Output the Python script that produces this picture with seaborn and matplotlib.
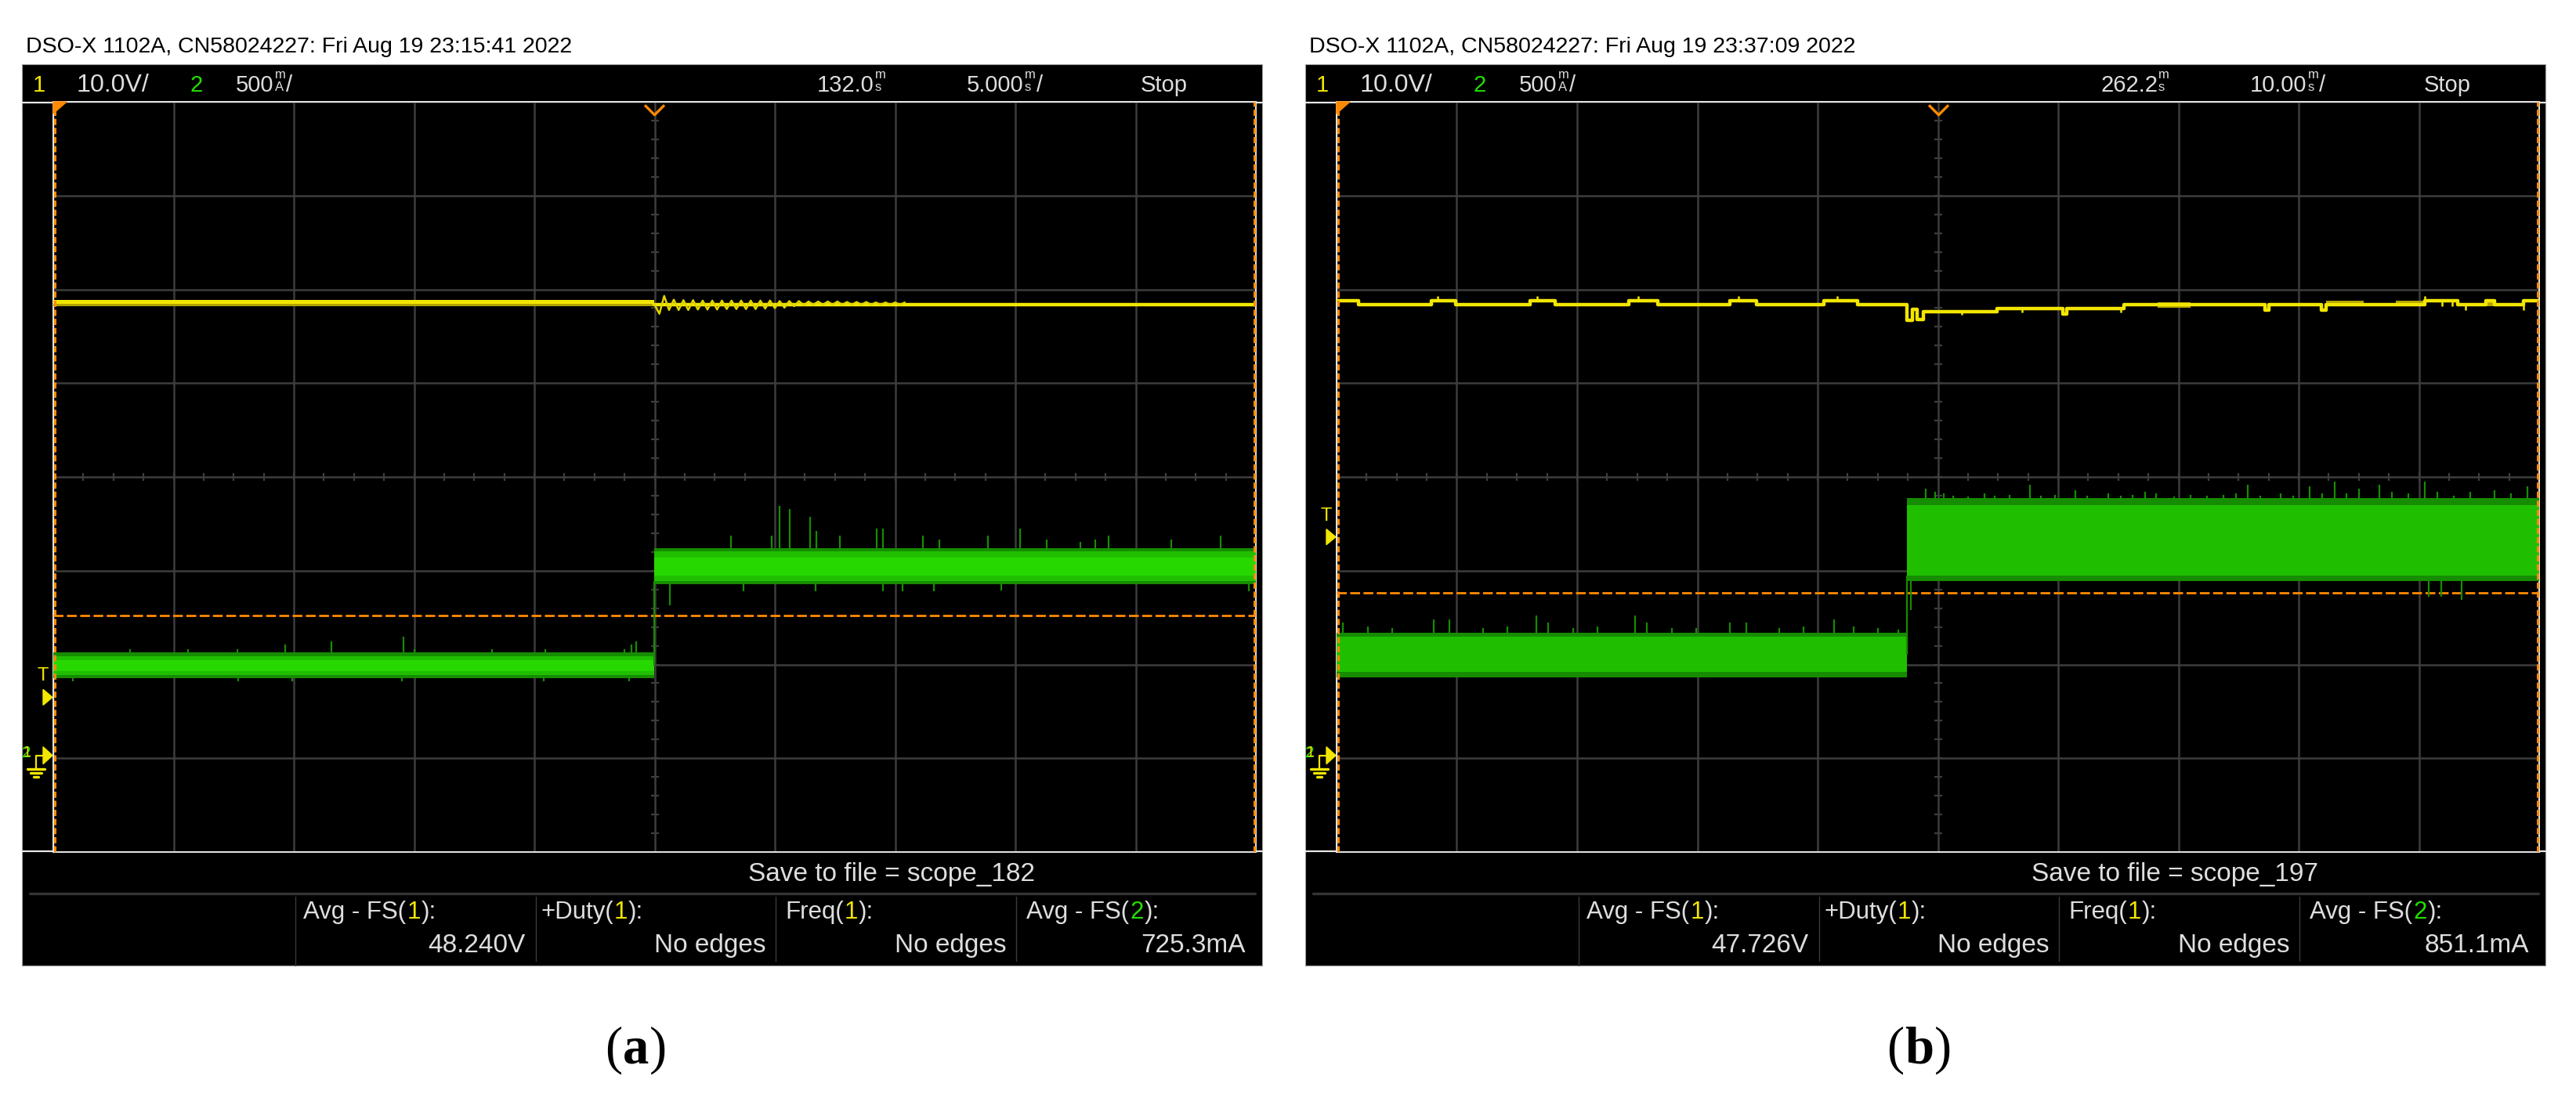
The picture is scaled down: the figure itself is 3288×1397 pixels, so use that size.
import numpy as np
import seaborn as sns
import matplotlib.pyplot as plt
from matplotlib import transforms, font_manager
from matplotlib.patches import Rectangle, Polygon
from matplotlib.path import Path

# ---- data ----
TITLES = ["DSO-X 1102A, CN58024227: Fri Aug 19 23:15:41 2022",
          "DSO-X 1102A, CN58024227: Fri Aug 19 23:37:09 2022"]
CH_SCALES = ["10.0V/", "500"]
DELAYS = ["132.0", "262.2"]
TIMEBASES = ["5.000", "10.00"]
SAVE_NAMES = ["scope_182", "scope_197"]
CAPTIONS = ["a", "b"]
MEAS_LABELS = ["Avg - FS(", "+Duty(", "Freq(", "Avg - FS("]
MEAS_CH = ["1", "1", "1", "2"]
A_MEAS = ["48.240V", "No edges", "No edges", "725.3mA"]
B_MEAS = ["47.726V", "No edges", "No edges", "851.1mA"]

GROUND_DIV = -2.97          # both channel grounds sit here (divisions)
CH1_VDIV = 10.0             # V/div
CH2_MADIV = 500.0           # mA/div

# panel (a): 5 ms/div
A_T = (-25.0, 25.0)
A_STEP_T = 0.0
A_TRIG_MA = 745
A_TMARK_V = 6.2
A_CH1_BEFORE = (47.9, 48.15, 48.56)
A_CH1_AFTER = 48.06
A_RING_T = [0.4, 0.8, 1.2, 1.6, 2.0, 2.4, 2.8, 3.2, 3.6, 4.0, 4.4, 4.8, 5.2,
            5.6, 6.0, 6.4, 6.8, 7.2, 7.6, 8.0, 8.4, 8.8, 9.2, 9.6, 10.0, 10.4]
A_RING_HI = [49.0, 48.6, 48.55, 48.55, 48.5, 48.5, 48.5, 48.5, 48.5, 48.5, 48.5,
             48.5, 48.45, 48.45, 48.45, 48.4, 48.4, 48.4, 48.4, 48.35, 48.35,
             48.35, 48.3, 48.3, 48.3, 48.3]
A_RING_LO = [47.1, 47.5, 47.5, 47.5, 47.55, 47.55, 47.55, 47.6, 47.6, 47.6, 47.6,
             47.65, 47.7, 47.75, 47.9, 48.0, 48.06, 48.06, 48.06, 48.06, 48.06,
             48.06, 48.06, 48.06, 48.06, 48.06]
A_CH2_BEFORE = (410, 430, 450, 510, 530, 550)     # dark/mid/bright band edges, mA
A_CH2_AFTER = (915, 930, 960, 1055, 1090, 1105)
A_SPIKE_T = [-21.8, -19.4, -17.35, -15.35, -13.45, -10.45, -10.0, -6.75, -4.55,
             -1.25, -0.95, -0.75, 3.16, 4.87, 5.21, 5.62, 6.47, 6.73, 7.71, 9.23,
             9.48, 11.16, 11.84, 13.86, 15.19, 16.29, 17.70, 18.32, 18.88, 21.47, 23.55]
A_SPIKE_TOP = [565, 565, 565, 590, 610, 635, 565, 565, 565, 565, 590, 610, 1170,
               1170, 1330, 1315, 1270, 1195, 1170, 1210, 1210, 1170, 1150, 1170,
               1210, 1150, 1140, 1150, 1170, 1150, 1170]
A_DIP_T = [-24.2, -17.3, -15.05, -10.5, -4.6, -1.05, 0.63, 3.7, 6.7, 9.5, 10.3,
           11.6, 14.4, 24.7]
A_DIP_BOT = [395, 395, 395, 395, 395, 395, 800, 875, 875, 875, 875, 875, 880, 875]

# panel (b): 10 ms/div
B_T = (-50.0, 50.0)
B_STEP_T = -2.6
B_TRIG_MA = 865
B_TMARK_V = 23.3
B_CH1_T = [-50, -48.2, -42.1, -40.1, -33.9, -31.8, -25.7, -23.3, -17.3, -15.1,
           -9.5, -6.7, -2.6, -2.1, -1.7, -1.2, 4.9, 10.4, 10.7, 15.5, 27.2, 27.5,
           31.9, 32.3, 40.5, 43.2, 45.6, 46.3, 48.7, 50]
B_CH1_V = [48.5, 48.06, 48.5, 48.06, 48.5, 48.06, 48.5, 48.06, 48.5, 48.06,
           48.5, 48.06, 46.4, 47.6, 46.5, 47.3, 47.67, 47.1, 47.67, 48.07, 47.5,
           48.07, 47.5, 48.07, 48.5, 48.07, 48.5, 48.07, 48.5, 48.5]
B_TICK_T = [-41.6, -33.3, -24.9, -16.6, -8.4, 2.0, 7.0, 15.2, 40.5, 41.9, 42.8, 43.9, 48.7]
B_TICK_V = [49.0, 49.0, 49.0, 49.0, 49.0, 47.0, 47.2, 47.2, 49.0, 47.9, 47.9, 47.5, 47.5]
B_FUZZ_T0 = [18.3, 32.3, 38.1, 45.6]
B_FUZZ_T1 = [21.0, 35.4, 40.5, 46.3]
B_FUZZ_LO = [47.7, 47.9, 47.9, 47.9]
B_FUZZ_HI = [48.3, 48.5, 48.5, 48.5]
B_CH2_BEFORE = (417, 446, 633, 655)
B_CH2_AFTER = (930, 958, 1335, 1372)
B_SPIKE_T = [-49.5, -47.4, -45.4, -41.9, -40.6, -37.8, -35.8, -33.4, -32.4, -30.3,
             -28.3, -25.2, -24.2, -22.1, -20.1, -17.3, -15.9, -13.2, -11.2, -8.6,
             -7.0, -5.0, -3.3,
             -1.03, -0.21, 0.47, 1.29, 2.52, 3.89, 4.71, 5.94, 7.65, 8.54, 9.71,
             11.41, 12.44, 14.15, 15.18, 16.20, 17.23, 18.12, 19.62, 21.00, 22.36,
             23.73, 24.76, 25.78, 26.81, 28.52, 29.54, 30.91, 31.94, 32.97, 33.99,
             35.02, 36.73, 37.76, 39.12, 40.49, 41.52, 42.88, 44.25, 46.31, 47.67, 49.04]
B_SPIKE_TOP = [707, 688, 679, 725, 725, 679, 688, 747, 707, 679,
               688, 747, 707, 679, 679, 707, 707, 679, 688, 725,
               688, 679, 669,
               1424, 1405, 1396, 1386, 1380, 1396, 1384, 1387, 1442, 1386, 1387,
               1414, 1386, 1396, 1386, 1387, 1405, 1396, 1380, 1387, 1386,
               1387, 1396, 1442, 1386, 1396, 1386, 1433, 1396, 1461, 1396,
               1424, 1442, 1405, 1396, 1461, 1405, 1386, 1405, 1414, 1396, 1433]
B_DIP_T = [-2.27, 40.83, 41.86, 43.57]
B_DIP_BOT = [775, 846, 846, 830]

# ---- style ----
W, H = 3288, 1397
YEL = "#f2e600"
YEL_DK = "#b4a400"
GRN_DK = "#168c00"
GRN_MID = "#1fbf00"
GRN = "#27d800"
ORANGE = "#ff8a00"
GRID = "#3d3d3d"
TXT = "#dedede"

sns.set_theme(style="white")
names = {f.name for f in font_manager.fontManager.ttflist}
if "Liberation Sans Narrow" in names:
    SCOPE_FONT, WS = "Liberation Sans Narrow", 1.2
else:
    SCOPE_FONT, WS = "Liberation Sans", 1.0
plt.rcParams["font.family"] = [SCOPE_FONT, "DejaVu Sans"]

fig = plt.figure(figsize=(W / 100, H / 100), dpi=100)
bg = fig.add_axes([0, 0, 1, 1])
bg.set_xlim(0, W)
bg.set_ylim(H, 0)
bg.axis("off")
R = fig.canvas.get_renderer()


def put_runs(x, y, parts, size, ha="left", family=None, small=None):
    objs = []
    cx = x
    for p in parts:
        if p[0] == "stack":
            t1 = bg.text(cx, y - 14, p[1], color=TXT, fontsize=small, va="bottom")
            t2 = bg.text(cx, y - 13, p[2], color=TXT, fontsize=small, va="top")
            w = max(t1.get_window_extent(R).width, t2.get_window_extent(R).width)
            objs += [t1, t2]
        else:
            kw = dict(color=p[1], fontsize=size, va="baseline")
            if family:
                kw["family"] = family
            if len(p) > 2:
                kw["fontweight"] = p[2]
            t = bg.text(cx, y, p[0], **kw)
            w = t.get_window_extent(R).width
            objs.append(t)
        cx += w + 1
    total = cx - x
    shift = {"left": 0, "right": -total, "center": -total / 2}[ha]
    for t in objs:
        px, py = t.get_position()
        t.set_position((px + shift, py))


def y_px(axc, v):
    return H - axc.transData.transform((0, v))[1]


def screen(x0, k, tlim, meas):
    bg.add_patch(Rectangle((x0 + 28, 82), 1583, 1151, facecolor="black",
                           edgecolor="#a0a0a0", lw=0.8))
    bg.plot([x0 + 28, x0 + 1611], [131, 131], color="#e8e8e8", lw=1.6)
    bg.plot([x0 + 28, x0 + 1611], [1087, 1087], color="#e8e8e8", lw=1.6)
    bg.plot([x0 + 38, x0 + 1602], [1141, 1141], color="#343434", lw=2.4)
    for i, sx in enumerate([377, 684, 990, 1297]):
        bg.plot([x0 + sx] * 2, [1145, 1233 if i == 0 else 1227], color="#3a3a3a", lw=1)
    bg.text(x0 + 33, 67, TITLES[k], color="black", fontsize=20.5 * WS, va="baseline")

    hs, sm = 21 * WS, 12 * WS
    put_runs(x0 + 42, 117, [("1", YEL)], hs)
    put_runs(x0 + 97, 117, [(CH_SCALES[0], TXT)], hs * 1.1)
    put_runs(x0 + 242, 117, [("2", "#22e000")], hs)
    put_runs(x0 + 301, 117, [(CH_SCALES[1], TXT), ("stack", "m", "A"), ("/", TXT)], hs, small=sm)
    put_runs(x0 + 1043, 117, [(DELAYS[k], TXT), ("stack", "m", "s")], hs, small=sm)
    put_runs(x0 + 1234, 117, [(TIMEBASES[k], TXT), ("stack", "m", "s"), ("/", TXT)], hs, small=sm)
    put_runs(x0 + 1456, 117, [("Stop", TXT)], hs)

    put_runs(x0 + 955, 1125, [("Save to file = " + SAVE_NAMES[k], TXT)], 24 * WS)
    for lx, rx, lab, ch, val in zip([387, 690, 1002, 1310], [671, 979, 1286, 1591],
                                    MEAS_LABELS, MEAS_CH, meas):
        put_runs(x0 + lx, 1173, [(lab, TXT), (ch, YEL if ch == "1" else "#22e000"),
                                 ("):", TXT)], 22.5 * WS)
        put_runs(x0 + rx, 1216, [(val, TXT)], 24 * WS, ha="right")

    put_runs(x0 + 812, 1358, [("(", "black"), (CAPTIONS[k], "black", "bold"), (")", "black")],
             48, ha="center", family="Liberation Serif")

    ax = fig.add_axes([(x0 + 68) / W, 1 - 1088 / H, 1535 / W, 958 / H])
    ax.set_facecolor("black")
    ax.set_xlim(*tlim)
    ax.set_ylim(-4, 4)
    ax.set_xticks(np.linspace(tlim[0], tlim[1], 11))
    ax.set_yticks(np.arange(-4, 5))
    ax.tick_params(length=0, labelbottom=False, labelleft=False)
    ax.grid(True, color=GRID, lw=1.8)
    for s in ax.spines.values():
        s.set_color("#e8e8e8")
        s.set_linewidth(1.4)
    ax.plot(np.linspace(tlim[0], tlim[1], 41), np.zeros(41), ls="none", marker="|",
            ms=7, mew=1.6, color=GRID)
    ax.plot(np.zeros(41), np.linspace(-4, 4, 41), ls="none", marker="_",
            ms=7, mew=1.6, color=GRID)

    ax2 = ax.twinx()
    ax2.set_ylim((-4 - GROUND_DIV) * CH2_MADIV, (4 - GROUND_DIV) * CH2_MADIV)
    ax2.axis("off")
    ax1 = ax.twinx()
    ax1.set_ylim((-4 - GROUND_DIV) * CH1_VDIV, (4 - GROUND_DIV) * CH1_VDIV)
    ax1.axis("off")

    # cursors / markers
    for xf in (0.001, 0.999):
        ax1.axvline(tlim[0] + xf * (tlim[1] - tlim[0]), color=ORANGE, lw=2.2,
                    ls=(0, (2.6, 1.2)), zorder=6)
    ax1.add_patch(Polygon([(0, 1), (17 / 1535, 1), (0, 1 - 15 / 958)], closed=True,
                          transform=ax1.transAxes, color=ORANGE, zorder=7, clip_on=False))
    vmark = Path([(-1, 0.5), (0, -0.5), (1, 0.5)], [Path.MOVETO, Path.LINETO, Path.LINETO])
    ax1.plot([0], [0.99], transform=transforms.blended_transform_factory(ax1.transData, ax1.transAxes),
             marker=vmark, ms=18, mfc="none", mec=ORANGE, mew=2.4, ls="none", clip_on=False, zorder=7)
    return ax, ax1, ax2


def left_markers(x0, ax1, tmark_v):
    ty = y_px(ax1, tmark_v)
    bg.add_patch(Polygon([(x0 + 55, ty - 10), (x0 + 67, ty), (x0 + 55, ty + 10)], color=YEL))
    bg.text(x0 + 55, ty - 27, "T", color=YEL, fontsize=17 * WS, ha="center", va="center")
    gy = y_px(ax1, 0.0)
    bg.add_patch(Polygon([(x0 + 55, gy - 11), (x0 + 67, gy), (x0 + 55, gy + 11)], color=YEL))
    bg.text(x0 + 34, gy - 3, "2", color="#22e000", fontsize=15 * WS, ha="center", va="center")
    bg.text(x0 + 35, gy - 3, "1", color=YEL, fontsize=13 * WS, ha="center", va="center")
    bg.plot([x0 + 55, x0 + 46, x0 + 46], [gy, gy, gy + 17], color=YEL, lw=1.6)
    for half, dy in [(11, 17), (7, 22), (3, 27)]:
        bg.plot([x0 + 46 - half, x0 + 46 + half], [gy + dy] * 2, color=YEL, lw=2.4)


def green_bands(ax2, tlim, step_t, before, after):
    n = len(before) // 2
    cols = [GRN_DK, GRN_MID, GRN] if n == 3 else [GRN_DK, GRN_MID]
    for i in range(n):
        ax2.fill_between([tlim[0], step_t], before[i], before[-1 - i], color=cols[i], lw=0, zorder=2)
        ax2.fill_between([step_t, tlim[1]], after[i], after[-1 - i], color=cols[i], lw=0, zorder=2)
    ax2.vlines(step_t, (before[0] + before[-1]) / 2, after[1], color=GRN_DK, lw=1.6, zorder=2)


def spikes(ax2, step_t, before, after, t_up, top, t_dn, bot):
    t_up, top, t_dn, bot = map(np.asarray, (t_up, top, t_dn, bot))
    base_up = np.where(t_up < step_t, before[-1], after[-1])
    base_dn = np.where(t_dn < step_t, before[0], after[0])
    ax2.vlines(t_up, base_up, top, color=GRN_DK, lw=1.6, zorder=2)
    ax2.vlines(t_dn, bot, base_dn, color=GRN_DK, lw=1.6, zorder=2)


# ---------- panel (a) ----------
ax, a1, a2 = screen(0, 0, A_T, A_MEAS)
a2.axhline(A_TRIG_MA, color=ORANGE, lw=2, ls=(0, (4.5, 1.6)), zorder=1)
green_bands(a2, A_T, A_STEP_T, A_CH2_BEFORE, A_CH2_AFTER)
spikes(a2, A_STEP_T, A_CH2_BEFORE, A_CH2_AFTER, A_SPIKE_T, A_SPIKE_TOP, A_DIP_T, A_DIP_BOT)

a1.fill_between([A_T[0], A_STEP_T], A_CH1_BEFORE[0], A_CH1_BEFORE[1], color=YEL_DK, lw=0)
a1.fill_between([A_T[0], A_STEP_T], A_CH1_BEFORE[1], A_CH1_BEFORE[2], color=YEL, lw=0)
sns.lineplot(x=[A_STEP_T, A_T[1]], y=[A_CH1_AFTER, A_CH1_AFTER], ax=a1, color=YEL,
             lw=3.2, estimator=None, legend=False)
ring_x, ring_y = [A_STEP_T], [A_CH1_AFTER]
for t, hi, lo in zip(A_RING_T, A_RING_HI, A_RING_LO):
    ring_x += [t - 0.2, t]
    ring_y += [lo, hi]
sns.lineplot(x=ring_x, y=ring_y, ax=a1, color="#e2d400", lw=1.8, sort=False,
             estimator=None, legend=False)
left_markers(0, a1, A_TMARK_V)

# ---------- panel (b) ----------
XB = 1638
bx, b1, b2 = screen(XB, 1, B_T, B_MEAS)
b2.axhline(B_TRIG_MA, color=ORANGE, lw=2, ls=(0, (4.5, 1.6)), zorder=1)
green_bands(b2, B_T, B_STEP_T, B_CH2_BEFORE, B_CH2_AFTER)
spikes(b2, B_STEP_T, B_CH2_BEFORE, B_CH2_AFTER, B_SPIKE_T, B_SPIKE_TOP, B_DIP_T, B_DIP_BOT)

for t0, t1, lo, hi in zip(B_FUZZ_T0, B_FUZZ_T1, B_FUZZ_LO, B_FUZZ_HI):
    b1.fill_between([t0, t1], lo, hi, color=YEL_DK, lw=0)
sns.lineplot(x=B_CH1_T, y=B_CH1_V, ax=b1, color=YEL, lw=3.2, drawstyle="steps-post",
             estimator=None, legend=False)
idx = np.searchsorted(B_CH1_T, B_TICK_T, side="right") - 1
b1.vlines(B_TICK_T, np.asarray(B_CH1_V)[idx], B_TICK_V, color=YEL, lw=1.8)
left_markers(XB, b1, B_TMARK_V)

fig.savefig("out.png", dpi=100, facecolor="white")
